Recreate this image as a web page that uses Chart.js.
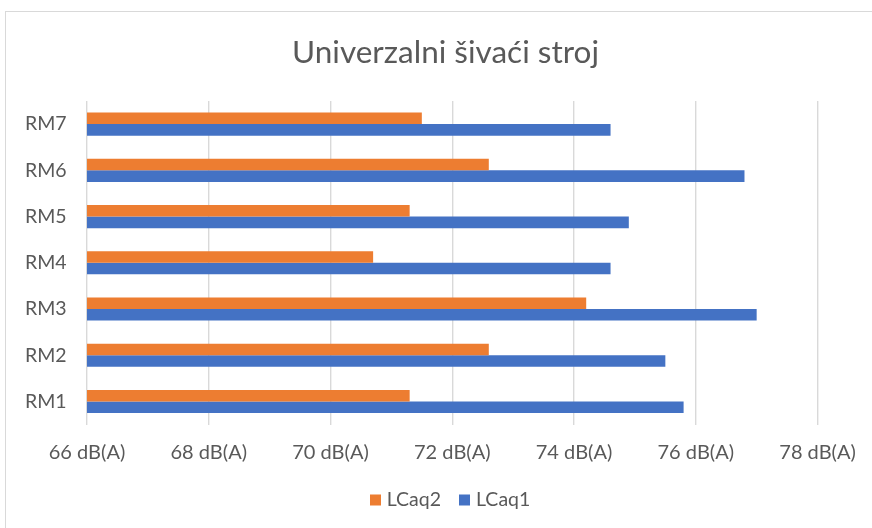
<!DOCTYPE html>
<html>
<head>
<meta charset="utf-8">
<script src="https://cdn.jsdelivr.net/npm/chart.js@4.4.1/dist/chart.umd.min.js"></script>
<style>
  html, body { margin: 0; padding: 0; background: #ffffff; overflow: hidden; }
  #wrap { position: relative; width: 872px; height: 528px; }
</style>
</head>
<body>
<div id="wrap"><canvas id="c" width="872" height="528"></canvas></div>
<script>
// Data (RM1 .. RM7)
const categories = ['RM1', 'RM2', 'RM3', 'RM4', 'RM5', 'RM6', 'RM7'];
const lcaq2 = [71.3, 72.6, 74.2, 70.7, 71.3, 72.6, 71.5];
const lcaq1 = [75.8, 75.5, 77.0, 74.6, 74.9, 76.8, 74.6];
const xTicks = [66, 68, 70, 72, 74, 76, 78];
const seriesNames = ['LCaq2', 'LCaq1'];
const seriesColors = ['#ED7D31', '#4472C4'];
const titleText = 'Univerzalni šivaći stroj';
const unit = ' dB(A)';

const textColor = '#595959';
const fontFamily = 'Lato, "Open Sans", sans-serif';

const decorPlugin = {
  id: 'decor',
  beforeDraw(chart) {
    const ctx = chart.ctx;
    ctx.save();
    // outer chart border
    ctx.strokeStyle = '#d9d9d9';
    ctx.lineWidth = 1;
    ctx.strokeRect(5.5, 11.5, 1000, 1000);
    // title
    ctx.fillStyle = textColor;
    ctx.font = '31.5px ' + fontFamily;
    ctx.textAlign = 'center';
    ctx.textBaseline = 'middle';
    ctx.fillText(titleText, 445.5, 53);
    ctx.restore();
  },
  afterDraw(chart) {
    // legend built from the chart's datasets
    const ctx = chart.ctx;
    ctx.save();
    ctx.font = '19.5px ' + fontFamily;
    ctx.textBaseline = 'middle';
    ctx.textAlign = 'left';
    const box = 11, gapText = 6, gapItem = 18, cy = 500, cx = 450;
    const items = chart.data.datasets.map(ds => ({ text: ds.label, color: ds.backgroundColor, w: ctx.measureText(ds.label).width }));
    let total = 0;
    items.forEach((it, i) => { total += box + gapText + it.w + (i ? gapItem : 0); });
    let x = cx - total / 2;
    items.forEach((it, i) => {
      if (i) x += gapItem;
      ctx.fillStyle = it.color;
      ctx.fillRect(Math.round(x), cy - box / 2, box, box);
      x += box + gapText;
      ctx.fillStyle = textColor;
      ctx.fillText(it.text, x, cy);
      x += it.w;
    });
    ctx.restore();
  }
};

new Chart(document.getElementById('c'), {
  type: 'bar',
  data: {
    labels: categories.slice().reverse(),
    datasets: [
      { label: seriesNames[0], data: lcaq2.slice().reverse(), backgroundColor: seriesColors[0], borderWidth: 0 },
      { label: seriesNames[1], data: lcaq1.slice().reverse(), backgroundColor: seriesColors[1], borderWidth: 0 }
    ]
  },
  options: {
    indexAxis: 'y',
    responsive: false,
    animation: false,
    devicePixelRatio: 1,
    datasets: { bar: { categoryPercentage: 0.5, barPercentage: 1.0 } },
    layout: { padding: { left: 25, right: 54, top: 101, bottom: 47 } },
    plugins: {
      title: { display: false },
      legend: { display: false },
      tooltip: { enabled: false }
    },
    scales: {
      x: {
        type: 'linear',
        min: 66,
        max: 78,
        afterBuildTicks(scale) { scale.ticks = xTicks.map(v => ({ value: v })); },
        ticks: {
          color: textColor,
          font: { family: fontFamily, size: 20 },
          padding: 16.2,
          maxRotation: 0,
          callback: (v) => v + unit
        },
        grid: { color: '#d9d9d9', lineWidth: 1.4, drawTicks: false },
        border: { display: false }
      },
      y: {
        afterFit(scale) { scale.width = 62; },
        ticks: {
          color: textColor,
          font: { family: fontFamily, size: 19.5 },
          crossAlign: 'far',
          padding: 8
        },
        grid: { display: false, drawTicks: false },
        border: { display: false }
      }
    }
  },
  plugins: [decorPlugin]
});
</script>
</body>
</html>
